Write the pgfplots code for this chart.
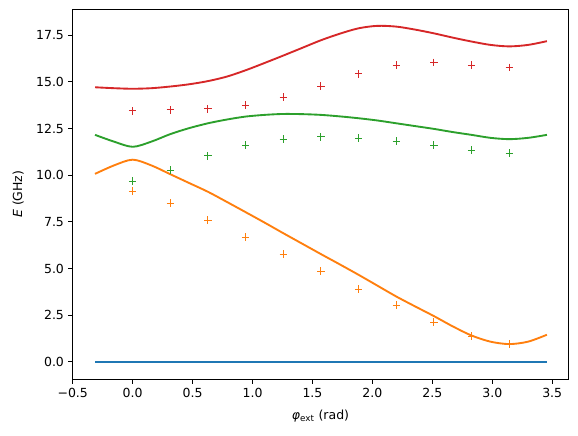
\documentclass[border=0pt]{standalone}
\usepackage{fontspec}
\setmainfont{DejaVu Sans}
\usepackage{pgfplots}
\pgfplotsset{compat=1.18}

\definecolor{tabblue}{HTML}{1F77B4}
\definecolor{taborange}{HTML}{FF7F0E}
\definecolor{tabgreen}{HTML}{2CA02C}
\definecolor{tabred}{HTML}{D62728}

\begin{document}
\begin{tikzpicture}
\useasboundingbox (-58.2pt,-45.4pt) rectangle (404.3pt,303.4pt);
\begin{axis}[
  at={(0,0)}, anchor=south west,
  scale only axis, width=396.5pt, height=296pt,
  xmin=-0.5, xmax=3.634, ymin=-0.93, ymax=18.89,
  axis line style={line width=0.8pt},
  tick align=outside, major tick length=3.5pt,
  every tick/.style={black, line width=0.8pt},
  xtick pos=left, ytick pos=left,
  xtick={-0.5,0,0.5,1,1.5,2,2.5,3,3.5},
  xticklabels={−0.5,0.0,0.5,1.0,1.5,2.0,2.5,3.0,3.5},
  ytick={0,2.5,5,7.5,10,12.5,15,17.5},
  yticklabels={0.0,2.5,5.0,7.5,10.0,12.5,15.0,17.5},
  ticklabel style={font=\fontsize{10}{12}\selectfont},
  xlabel={\textit{φ}\textsubscript{ext} (rad)},
  ylabel={\textit{E} (GHz)},
  label style={font=\fontsize{10}{12}\selectfont},
  xlabel style={yshift=-3.5pt},
  ylabel style={yshift=3pt},
  clip=false,
]
% computed spectrum (lines)
\addplot[tabblue, line width=1.5pt] coordinates {(-0.314,0) (3.456,0)};
\addplot[taborange, line width=1.5pt, smooth, tension=0.5] coordinates {
(-0.314,10.07) (-0.157,10.52) (0,10.83) (0.157,10.52) (0.314,10.05)
(0.471,9.58) (0.628,9.11) (0.785,8.57) (0.942,8.02) (1.100,7.46)
(1.257,6.89) (1.414,6.33) (1.571,5.77) (1.728,5.22) (1.885,4.66)
(2.042,4.08) (2.199,3.50) (2.356,2.97) (2.513,2.45) (2.670,1.90)
(2.827,1.41) (2.985,1.08) (3.142,0.95) (3.299,1.08) (3.456,1.45)};
\addplot[tabgreen, line width=1.5pt, smooth, tension=0.5] coordinates {
(-0.314,12.16) (-0.157,11.80) (0,11.52) (0.157,11.80) (0.314,12.20)
(0.471,12.52) (0.628,12.78) (0.785,12.98) (0.942,13.14) (1.100,13.23)
(1.257,13.28) (1.414,13.27) (1.571,13.23) (1.728,13.15) (1.885,13.05)
(2.042,12.93) (2.199,12.78) (2.356,12.63) (2.513,12.48) (2.670,12.31)
(2.827,12.16) (2.985,12.00) (3.142,11.93) (3.299,12.00) (3.456,12.16)};
\addplot[tabred, line width=1.5pt, smooth, tension=0.5] coordinates {
(-0.314,14.71) (-0.157,14.66) (0,14.63) (0.157,14.66) (0.314,14.75)
(0.471,14.87) (0.628,15.04) (0.785,15.28) (0.942,15.62) (1.100,16.01)
(1.257,16.41) (1.414,16.82) (1.571,17.23) (1.728,17.58) (1.885,17.87)
(2.042,18.00) (2.199,17.96) (2.356,17.80) (2.513,17.60) (2.670,17.37)
(2.827,17.16) (2.985,16.98) (3.142,16.90) (3.299,16.98) (3.456,17.18)};
% measured transitions (markers)
\addplot[only marks, mark=+, mark size=3pt, taborange, mark options={line width=0.8pt}] coordinates {
(0,9.14) (0.314,8.50) (0.628,7.59) (0.942,6.68) (1.257,5.77) (1.571,4.86)
(1.885,3.89) (2.199,3.04) (2.513,2.13) (2.827,1.38) (3.142,0.96)};
\addplot[only marks, mark=+, mark size=3pt, tabgreen, mark options={line width=0.8pt}] coordinates {
(0,9.68) (0.314,10.27) (0.628,11.03) (0.942,11.61) (1.257,11.93) (1.571,12.05)
(1.885,11.98) (2.199,11.82) (2.513,11.61) (2.827,11.34) (3.142,11.18)};
\addplot[only marks, mark=+, mark size=3pt, tabred, mark options={line width=0.8pt}] coordinates {
(0,13.44) (0.314,13.50) (0.628,13.55) (0.942,13.75) (1.257,14.18) (1.571,14.77)
(1.885,15.43) (2.199,15.89) (2.513,16.05) (2.827,15.89) (3.142,15.78)};
\end{axis}
\end{tikzpicture}
\end{document}
